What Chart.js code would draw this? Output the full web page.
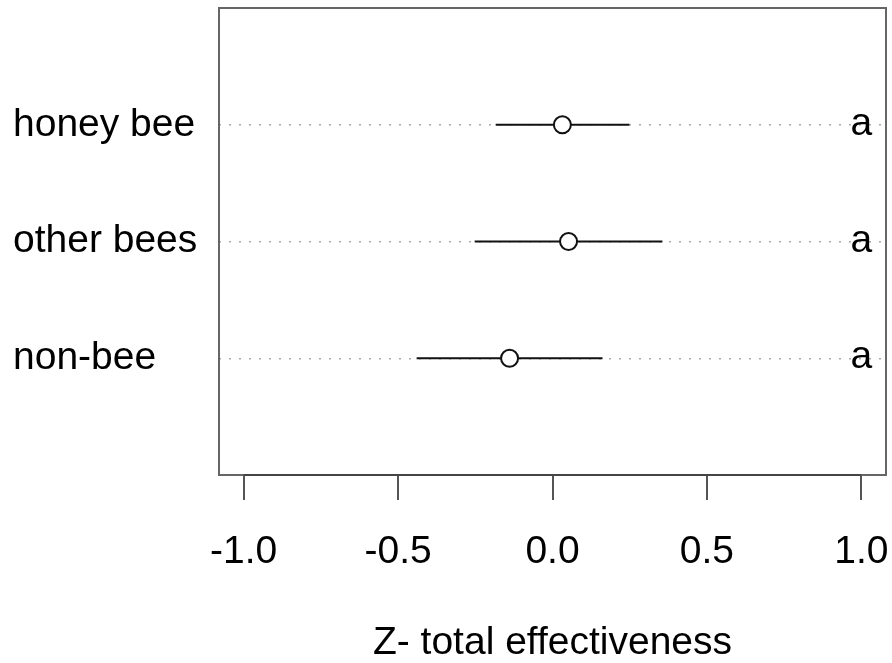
<!DOCTYPE html>
<html><head><meta charset="utf-8">
<script src="https://cdn.jsdelivr.net/npm/chart.js@4"></script>
<style>html,body{margin:0;padding:0;background:#fff}canvas{display:block}</style>
</head><body>
<canvas id="c" width="892" height="663"></canvas>
<script>
const categories = ['non-bee', 'other bees', 'honey bee'];
const positions = [1, 2, 3];
const means = [-0.139, 0.052, 0.032];
const lower = [-0.440, -0.252, -0.184];
const upper = [0.162, 0.356, 0.249];
const letters = ['a', 'a', 'a'];
const letterX = 1.0;
const xTicks = [-1.0, -0.5, 0.0, 0.5, 1.0];
const xTitle = 'Z- total effectiveness';

const FONT = '"Liberation Sans", Arial, Helvetica, sans-serif';
const FS = 39;

const boxPlugin = {
  id: 'box',
  afterDraw(chart) {
    const {ctx, chartArea: a, scales: {x, y}} = chart;
    ctx.save();
    ctx.strokeStyle = '#666';
    ctx.lineWidth = 2;
    ctx.strokeRect(a.left, a.top, a.right - a.left, a.bottom - a.top);
    ctx.beginPath();
    ctx.moveTo(x.getPixelForValue(xTicks[0]), a.bottom);
    ctx.lineTo(x.getPixelForValue(xTicks[xTicks.length - 1]), a.bottom);
    ctx.strokeStyle = '#444';
    ctx.stroke();
    ctx.font = FS + 'px ' + FONT;
    ctx.fillStyle = '#000';
    ctx.textAlign = 'center';
    ctx.textBaseline = 'alphabetic';
    letters.forEach((l, i) => ctx.fillText(l, x.getPixelForValue(letterX), y.getPixelForValue(positions[i]) + 10));
    ctx.restore();
  }
};

const datasets = categories.map((c, i) => ({
  type: 'line',
  label: c,
  data: [{x: lower[i], y: positions[i]}, {x: upper[i], y: positions[i]}],
  borderColor: '#111',
  borderWidth: 2,
  pointRadius: 0,
  fill: false,
  order: 2
}));
datasets.push({
  type: 'scatter',
  label: 'mean',
  data: means.map((m, i) => ({x: m, y: positions[i]})),
  pointRadius: 8.5,
  pointBorderWidth: 2,
  pointBackgroundColor: '#fff',
  pointBorderColor: '#111',
  order: 1
});

function zeroPad(s) {
  s.paddingLeft = 0; s.paddingRight = 0; s.paddingTop = 0; s.paddingBottom = 0;
}

new Chart(document.getElementById('c'), {
  type: 'scatter',
  data: {datasets},
  plugins: [boxPlugin],
  options: {
    responsive: false,
    animation: false,
    devicePixelRatio: 1,
    events: [],
    layout: {autoPadding: false, padding: {left: 13, right: 6, top: 8, bottom: -4}},
    plugins: {legend: {display: false}, tooltip: {enabled: false}},
    scales: {
      x: {
        type: 'linear',
        min: -1.08,
        max: 1.08,
        afterBuildTicks: s => { s.ticks = xTicks.map(v => ({value: v})); },
        afterFit: s => { s.height = 192; zeroPad(s); },
        grid: {drawOnChartArea: false, drawTicks: true, tickLength: 25, color: '#555', lineWidth: 2},
        border: {display: false},
        ticks: {
          autoSkip: false, maxRotation: 0, padding: 29, color: '#000',
          font: {family: FONT, size: FS},
          callback: v => Number(v).toFixed(1)
        },
        title: {display: true, text: xTitle, color: '#000', font: {family: FONT, size: FS}, padding: {top: 0, bottom: 0}}
      },
      y: {
        type: 'linear',
        min: 0,
        max: 4,
        afterBuildTicks: s => { s.ticks = positions.map(v => ({value: v})); },
        afterFit: s => { s.width = 206; zeroPad(s); },
        grid: {drawTicks: false, color: '#aaa', lineWidth: 1.5},
        border: {display: false, dash: [2, 8]},
        ticks: {
          crossAlign: 'far', color: '#000',
          font: {family: FONT, size: FS},
          callback: v => categories[positions.indexOf(v)]
        }
      }
    }
  }
});
</script>
</body></html>
